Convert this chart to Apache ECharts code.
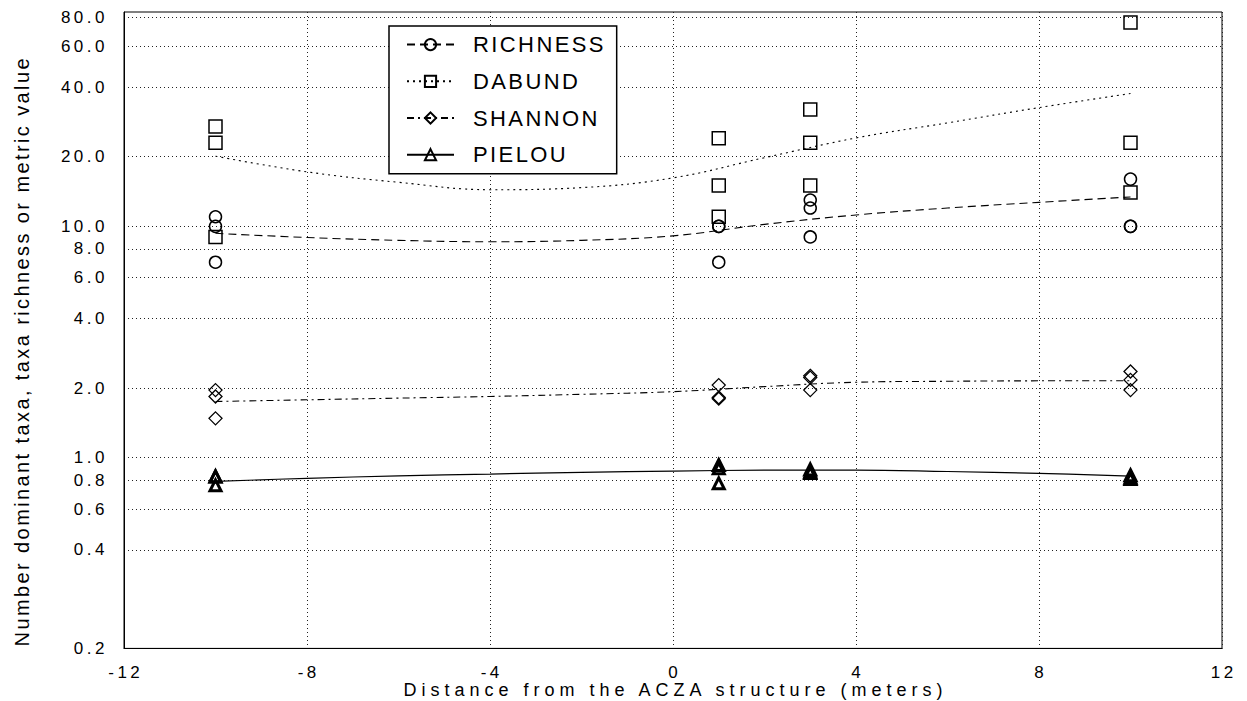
<!DOCTYPE html>
<html><head><meta charset="utf-8">
<script src="https://cdn.jsdelivr.net/npm/echarts@6/dist/echarts.min.js"></script>
<style>
html,body{margin:0;padding:0;background:#fff;}
#main{width:1247px;height:701px;}
#main text[style*="17px"]{letter-spacing:3.5px;}
#main text[style*="18px"]{letter-spacing:5px;}
#main text[style*="20px"]{letter-spacing:2.4px;}
#main text[style*="22px"]{letter-spacing:2.4px;}
</style></head><body><div id="main"></div>
<script>
const seriesNames = ['RICHNESS', 'DABUND', 'SHANNON', 'PIELOU'];
const distances = [-10, 1, 3, 10];
const richness = [[11, 10, 7], [10, 10, 7], [13, 12, 9], [16, 10, 10]];
const dabund = [[27, 23, 9], [24, 15, 11], [32, 23, 15], [76, 23, 14]];
const shannon = [[1.96, 1.84, 1.48], [2.06, 1.82, 1.80], [2.26, 2.22, 1.96], [2.36, 2.17, 1.96]];
const pielou = [[0.83, 0.83, 0.76], [0.93, 0.90, 0.775], [0.89, 0.87, 0.86], [0.84, 0.82, 0.81]];
const fitX = [-10, -8, -6, -4, -2, 0, 2, 4, 6, 8, 10];
const richnessFit = [9.33, 8.95, 8.7, 8.58, 8.7, 9.1, 10.2, 11.2, 12.0, 12.7, 13.4];
const dabundFit = [20.1, 17.2, 15.5, 14.4, 14.7, 16.2, 19.8, 24.1, 28.0, 32.6, 37.5];
const shannonFit = [1.75, 1.78, 1.81, 1.84, 1.88, 1.93, 2.03, 2.12, 2.14, 2.15, 2.15];
const pielouFit = [0.79, 0.815, 0.835, 0.85, 0.865, 0.876, 0.884, 0.885, 0.872, 0.856, 0.833];
const yTicks = [0.15, 0.4, 0.6, 0.8, 1, 2, 4, 6, 8, 10, 20, 40, 60, 80];
const yMin = 0.15, yMax = 84.4;
const xMin = -12, xMax = 12, xStep = 4;

const obs = [richness, dabund, shannon, pielou];
const fits = [richnessFit, dabundFit, shannonFit, pielouFit];
const symbols = ['circle', 'rect', 'diamond', 'triangle'];
const symSizes = [12, 13, 13, 11];
const borderW = [1.5, 1.5, 1.3, 3];
const dashes = [[8, 5], [2, 4], [7, 4, 2, 4], 'solid'];

const series = [];
seriesNames.forEach((name, k) => {
  series.push({
    name: name, type: 'line', smooth: 0.4, showSymbol: false,
    symbol: symbols[k], symbolSize: symSizes[k] - 1,
    data: fitX.map((x, i) => [x, fits[k][i]]),
    lineStyle: {color: '#000', width: k === 3 ? 1.2 : 1.1, type: dashes[k]},
    itemStyle: {color: 'rgba(0,0,0,0)', borderColor: '#000', borderWidth: borderW[k]},
    z: 2, silent: true
  });
});
seriesNames.forEach((name, k) => {
  const pts = [];
  distances.forEach((d, i) => obs[k][i].forEach(v => pts.push([d, v])));
  series.push({
    name: name, type: 'scatter', symbol: symbols[k], symbolSize: symSizes[k],
    data: pts,
    itemStyle: {color: 'rgba(0,0,0,0)', borderColor: '#000', borderWidth: borderW[k], opacity: 1},
    z: 3, silent: true
  });
});

const chart = echarts.init(document.getElementById('main'), null, {renderer: 'svg'});
chart.setOption({
  animation: false,
  backgroundColor: '#fff',
  textStyle: {fontFamily: 'Liberation Sans'},
  grid: {left: 124, right: 25, top: 12, bottom: 52.6, show: true, borderColor: '#000', borderWidth: 1,
    outerBoundsMode: 'none', containLabel: false},
  legend: {
    data: seriesNames, orient: 'vertical', left: 389, top: 26,
    padding: [7.6, 30, 8, 17], itemGap: 14.7, itemWidth: 47, itemHeight: 14,
    borderColor: '#000', borderWidth: 1.5, backgroundColor: '#fff',
    textStyle: {fontSize: 22, color: '#000', fontFamily: 'Liberation Sans', lineHeight: 22, padding: [0, 0, 0, 14]},
    selectedMode: false
  },
  xAxis: {
    type: 'value', min: xMin, max: xMax, interval: xStep,
    name: 'Distance from the ACZA structure (meters)', nameLocation: 'middle', nameGap: 33,
    nameMoveOverlap: false,
    nameTextStyle: {fontSize: 18, color: '#000', fontFamily: 'Liberation Sans', padding: [0, 0, 0, 5]},
    axisLine: {show: true, onZero: false, lineStyle: {color: '#000', width: 1}},
    axisTick: {show: false},
    axisLabel: {fontSize: 17, color: '#000', margin: 16, fontFamily: 'Liberation Sans', padding: [0, 0, 0, 3.5]},
    splitLine: {show: true, lineStyle: {color: '#222', width: 1, type: [1, 3]}}
  },
  yAxis: {
    type: 'log', logBase: 10, min: yMin, max: yMax,
    name: 'Number dominant taxa, taxa richness or metric value', nameLocation: 'middle', nameGap: 92,
    nameMoveOverlap: false,
    nameTextStyle: {fontSize: 20, color: '#000', fontFamily: 'Liberation Sans', padding: [0, 42, 0, 0]},
    axisLine: {show: true, onZero: false, lineStyle: {color: '#000', width: 1}},
    axisTick: {show: false, customValues: yTicks},
    axisLabel: {fontSize: 17, color: '#000', margin: 16, fontFamily: 'Liberation Sans', customValues: yTicks,
      formatter: v => (Math.round(v * 10) / 10).toFixed(1)},
    splitLine: {show: true, lineStyle: {color: '#222', width: 1, type: [1, 3]}}
  },
  series: series
});
</script></body></html>
